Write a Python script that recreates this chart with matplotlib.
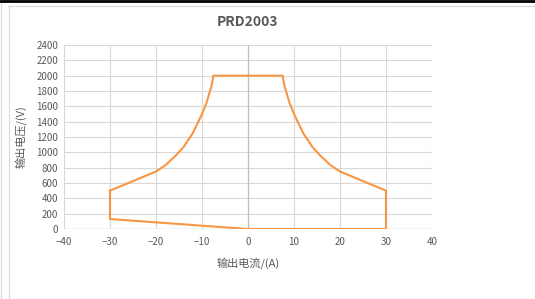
import matplotlib
matplotlib.use('Agg')
import matplotlib.pyplot as plt
from matplotlib.lines import Line2D

plt.rcParams['font.family'] = ['Noto Sans CJK SC', 'DejaVu Sans']

# operating envelope
current = [-30, -30, 0, 30, 30, 25, 20, 18, 16, 14, 12, 10, 9, 8, 7.5,
           -7.5, -8, -9, -10, -12, -14, -16, -18, -20, -25, -30]
voltage = [500, 130, 0, 0, 500, 625, 750, 830, 940, 1070, 1250, 1500, 1650, 1850, 2000,
           2000, 1850, 1650, 1500, 1250, 1070, 940, 830, 750, 625, 500]

x_ticks = [-40, -30, -20, -10, 0, 10, 20, 30, 40]
y_ticks = list(range(0, 2401, 200))

TEXT = '#595959'
GRID = '#D9D9D9'

fig = plt.figure(figsize=(5.35, 2.99), dpi=100)
ax = fig.add_axes([64/535, 1 - 229/299, 368/535, 184/299])

ax.plot(current, voltage, color='#F79646', linewidth=1.5, solid_joinstyle='miter', zorder=3)

ax.set_xlim(-40, 40)
ax.set_ylim(0, 2400)
ax.set_xticks(x_ticks)
ax.set_yticks(y_ticks)
ax.grid(True, color=GRID, linewidth=0.8)
ax.axvline(0, color='#BFBFBF', linewidth=0.9, zorder=2)
ax.axhline(0, color='#BFBFBF', linewidth=0.9, zorder=2)
for s in ax.spines.values():
    s.set_visible(False)
ax.tick_params(length=0, labelsize=7, labelcolor=TEXT)
ax.tick_params(axis='x', pad=6)
ax.tick_params(axis='y', pad=4)

ax.set_xlabel('输出电流/(A)', fontsize=8, color=TEXT, labelpad=7)
ax.set_ylabel('输出电压/(V)', fontsize=8, color=TEXT, labelpad=7)
fig.text(248/535, 1 - 22/299, 'PRD2003', ha='center', va='center',
         fontsize=10, fontweight='bold', color=TEXT)

# window frame around the chart
fig.add_artist(Line2D([0, 1], [1 - 1/299, 1 - 1/299], color='black', linewidth=2.0))
fig.add_artist(Line2D([8/535, 1], [1 - 5.5/299, 1 - 5.5/299], color=GRID, linewidth=0.8))
fig.add_artist(Line2D([8.5/535, 8.5/535], [0, 1 - 5.5/299], color=GRID, linewidth=0.8))
fig.add_artist(Line2D([1.5/535, 1.5/535], [0, 1 - 3/299], color=GRID, linewidth=0.8))

fig.savefig('out.png', dpi=100)
